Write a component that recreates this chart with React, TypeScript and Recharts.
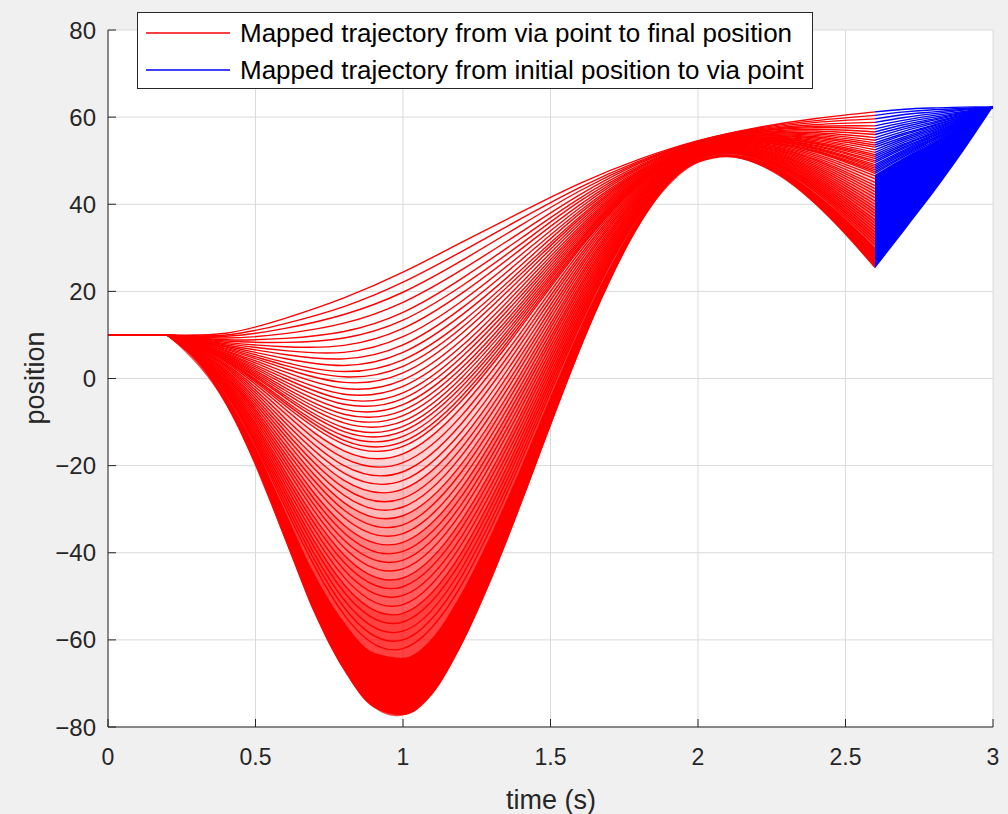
import React from "react";
import { ComposedChart, Line, Area, XAxis, YAxis, CartesianGrid } from "recharts";

const W = 1008;
const H = 814;
const FONT = "'Liberation Sans', Arial, Helvetica, sans-serif";
const INK = "#262626";

// fine time grid for the envelope of the red family (s)
const timeFine = [0, 0.1, 0.2, 0.3, 0.4, 0.5, 0.6, 0.7, 0.8, 0.9, 1.0, 1.1, 1.2, 1.3, 1.4, 1.5, 1.6, 1.7, 1.8, 1.9, 2.0, 2.1, 2.2, 2.3, 2.4, 2.5, 2.6];
// lowest red trajectory
const redLower = [10, 10, 10, 4, -6, -20, -37, -54, -67, -75.5, -77.3, -72.5, -61, -46, -29, -11, 6.5, 22, 35, 44.5, 49.5, 50.8, 49.2, 45.5, 39.8, 33, 25.3];
// top of the part where the red lines merge into a solid band
const redSolidTop = [10, 10, 10, 4.8, -3.9, -15.9, -30.4, -44.9, -55.9, -62.9, -64.1, -59.5, -49.0, -35.5, -20.3, -4.2, 11.5, 25.3, 37.0, 45.6, 50.2, 51.5, 50.3, 47.2, 42.4, 36.6, 30.0];

// coarse grid for the individual red lines
const timeCoarse = [0, 0.2, 0.4, 0.6, 0.8, 1.0, 1.2, 1.4, 1.6, 1.8, 2.0, 2.2, 2.4, 2.6];

const redCurves = [
  [10, 10, 10.4, 13.8, 18.5, 24.4, 31.3, 38.2, 44.8, 50.3, 54.6, 57.6, 59.7, 61.2],
  [10, 10, 10.0, 12.6, 16.5, 22.1, 29.2, 36.7, 43.9, 49.9, 54.5, 57.4, 59.2, 60.4],
  [10, 10, 9.7, 11.5, 14.7, 19.8, 27.1, 35.2, 43.1, 49.6, 54.4, 57.2, 58.8, 59.6],
  [10, 10, 9.3, 10.3, 12.7, 17.5, 25.0, 33.6, 42.2, 49.3, 54.3, 57.0, 58.3, 58.8],
  [10, 10, 8.9, 9.2, 10.8, 15.2, 23.0, 32.2, 41.4, 48.9, 54.1, 56.8, 57.9, 58.0],
  [10, 10, 8.6, 8.3, 9.3, 13.4, 21.3, 30.9, 40.7, 48.6, 54.0, 56.7, 57.6, 57.3],
  [10, 10, 8.3, 7.3, 7.6, 11.5, 19.6, 29.7, 39.9, 48.4, 54.0, 56.5, 57.2, 56.6],
  [10, 10, 8.0, 6.4, 6.0, 9.6, 17.8, 28.4, 39.2, 48.1, 53.9, 56.4, 56.8, 56.0],
  [10, 10, 7.7, 5.5, 4.5, 7.7, 16.2, 27.2, 38.5, 47.8, 53.8, 56.2, 56.4, 55.3],
  [10, 10, 7.4, 4.6, 3.0, 6.0, 14.6, 26.0, 37.9, 47.5, 53.7, 56.1, 56.1, 54.7],
  [10, 10, 7.2, 3.7, 1.6, 4.3, 13.0, 24.9, 37.2, 47.3, 53.6, 55.9, 55.8, 54.1],
  [10, 10, 6.9, 3.0, 0.4, 2.8, 11.7, 24.0, 36.7, 47.1, 53.5, 55.8, 55.5, 53.6],
  [10, 10, 6.7, 2.3, -0.9, 1.3, 10.4, 23.0, 36.1, 46.8, 53.4, 55.7, 55.2, 53.1],
  [10, 10, 6.4, 1.5, -2.3, -0.3, 8.9, 21.9, 35.5, 46.6, 53.4, 55.6, 54.9, 52.5],
  [10, 10, 6.2, 0.7, -3.6, -1.8, 7.5, 20.9, 34.9, 46.4, 53.3, 55.4, 54.6, 51.9],
  [10, 10, 5.9, 0.0, -4.8, -3.3, 6.2, 19.9, 34.4, 46.1, 53.2, 55.3, 54.3, 51.4],
  [10, 10, 5.7, -0.7, -5.9, -4.6, 5.0, 19.0, 33.9, 45.9, 53.2, 55.2, 54.0, 51.0],
  [10, 10, 5.5, -1.4, -7.1, -6.0, 3.7, 18.1, 33.4, 45.7, 53.1, 55.1, 53.8, 50.5],
  [10, 10, 5.3, -2.1, -8.2, -7.3, 2.5, 17.2, 32.9, 45.5, 53.0, 55.0, 53.5, 50.0],
  [10, 10, 5.1, -2.7, -9.2, -8.5, 1.4, 16.4, 32.4, 45.3, 53.0, 54.9, 53.3, 49.6],
  [10, 10, 4.9, -3.3, -10.2, -9.8, 0.3, 15.6, 31.9, 45.2, 52.9, 54.8, 53.0, 49.1],
  [10, 10, 4.7, -3.9, -11.3, -11.0, -0.8, 14.8, 31.5, 45.0, 52.8, 54.7, 52.8, 48.7],
  [10, 10, 4.5, -4.4, -12.2, -12.1, -1.8, 14.1, 31.1, 44.8, 52.8, 54.6, 52.6, 48.3],
  [10, 10, 4.3, -5.1, -13.2, -13.3, -2.9, 13.3, 30.6, 44.6, 52.7, 54.5, 52.3, 47.9],
  [10, 10, 4.1, -5.6, -14.2, -14.5, -4.0, 12.5, 30.2, 44.5, 52.7, 54.4, 52.1, 47.5],
  [10, 10, 4.0, -6.2, -15.1, -15.6, -5.0, 11.8, 29.8, 44.3, 52.6, 54.3, 51.9, 47.1],
  [10, 10, 3.7, -7.0, -16.6, -17.3, -6.5, 10.6, 29.1, 44.0, 52.5, 54.2, 51.5, 46.5],
  [10, 10, 3.3, -8.0, -18.3, -19.3, -8.4, 9.3, 28.3, 43.7, 52.4, 54.0, 51.1, 45.8],
  [10, 10, 3.0, -9.1, -20.0, -21.4, -10.2, 8.0, 27.6, 43.4, 52.3, 53.8, 50.7, 45.0],
  [10, 10, 2.7, -10.1, -21.7, -23.4, -12.1, 6.6, 26.8, 43.1, 52.2, 53.7, 50.3, 44.3],
  [10, 10, 2.4, -11.1, -23.4, -25.4, -13.9, 5.3, 26.0, 42.8, 52.1, 53.5, 50.0, 43.6],
  [10, 10, 2.0, -12.1, -25.1, -27.5, -15.8, 3.9, 25.3, 42.5, 52.0, 53.3, 49.6, 42.9],
  [10, 10, 1.7, -13.1, -26.8, -29.5, -17.6, 2.6, 24.5, 42.2, 51.9, 53.2, 49.2, 42.2],
  [10, 10, 1.4, -14.1, -28.5, -31.5, -19.5, 1.2, 23.7, 41.9, 51.8, 53.0, 48.8, 41.5],
  [10, 10, 1.1, -15.2, -30.2, -33.6, -21.3, -0.1, 23.0, 41.6, 51.7, 52.8, 48.4, 40.7],
  [10, 10, 0.7, -16.2, -31.9, -35.6, -23.2, -1.5, 22.2, 41.3, 51.6, 52.6, 48.0, 40.0],
  [10, 10, 0.4, -17.2, -33.7, -37.6, -25.0, -2.8, 21.4, 41.0, 51.5, 52.5, 47.6, 39.3],
  [10, 10, 0.1, -18.2, -35.4, -39.7, -26.9, -4.1, 20.7, 40.7, 51.4, 52.3, 47.2, 38.6],
  [10, 10, -0.3, -19.2, -37.1, -41.7, -28.7, -5.5, 19.9, 40.4, 51.3, 52.1, 46.8, 37.9],
  [10, 10, -0.6, -20.2, -38.8, -43.7, -30.5, -6.8, 19.1, 40.1, 51.2, 52.0, 46.4, 37.2],
  [10, 10, -0.9, -21.3, -40.5, -45.8, -32.4, -8.2, 18.4, 39.7, 51.1, 51.8, 46.0, 36.4],
  [10, 10, -1.2, -22.3, -42.2, -47.8, -34.2, -9.5, 17.6, 39.4, 51.0, 51.6, 45.6, 35.7],
  [10, 10, -1.6, -23.3, -43.9, -49.8, -36.1, -10.9, 16.8, 39.1, 50.9, 51.5, 45.2, 35.0],
  [10, 10, -1.9, -24.3, -45.6, -51.9, -37.9, -12.2, 16.1, 38.8, 50.8, 51.3, 44.8, 34.3],
  [10, 10, -2.2, -25.3, -47.3, -53.9, -39.8, -13.5, 15.3, 38.5, 50.7, 51.1, 44.4, 33.6],
  [10, 10, -2.6, -26.3, -49.0, -55.9, -41.6, -14.9, 14.5, 38.2, 50.6, 51.0, 44.0, 32.8],
  [10, 10, -2.9, -27.4, -50.8, -58.0, -43.5, -16.2, 13.8, 37.9, 50.5, 50.8, 43.6, 32.1],
  [10, 10, -3.2, -28.4, -52.5, -60.0, -45.3, -17.6, 13.0, 37.6, 50.4, 50.6, 43.2, 31.4],
  [10, 10, -3.5, -29.4, -54.2, -62.0, -47.2, -18.9, 12.3, 37.3, 50.3, 50.5, 42.8, 30.7],
];

// blue family, from t = 2.6 to 3
const timeBlue = [2.6, 2.7, 2.8, 2.9, 3.0];
const blueLower = [25.3, 34.0, 42.8, 52.2, 62.3];
const blueSolidTop = [46.8, 50.8, 54.3, 58.2, 62.3];
const blueCurves = [
  [61.2, 61.8, 62.1, 62.3, 62.3],
  [60.4, 61.2, 61.7, 62.0, 62.3],
  [59.6, 60.6, 61.2, 61.8, 62.3],
  [58.8, 59.9, 60.8, 61.6, 62.3],
  [58.0, 59.3, 60.4, 61.3, 62.3],
  [57.3, 58.8, 60.0, 61.1, 62.3],
  [56.6, 58.3, 59.6, 61.0, 62.3],
  [56.0, 57.8, 59.3, 60.8, 62.3],
  [55.3, 57.3, 58.9, 60.6, 62.3],
  [54.7, 56.8, 58.6, 60.4, 62.3],
  [54.1, 56.3, 58.2, 60.2, 62.3],
  [53.6, 56.0, 58.0, 60.1, 62.3],
  [53.1, 55.5, 57.7, 59.9, 62.3],
  [52.5, 55.1, 57.4, 59.8, 62.3],
  [51.9, 54.7, 57.1, 59.6, 62.3],
  [51.4, 54.3, 56.8, 59.5, 62.3],
  [51.0, 53.9, 56.5, 59.3, 62.3],
  [50.5, 53.6, 56.3, 59.2, 62.3],
  [50.0, 53.2, 56.0, 59.1, 62.3],
  [49.6, 52.9, 55.8, 58.9, 62.3],
  [49.1, 52.5, 55.6, 58.8, 62.3],
  [48.7, 52.2, 55.3, 58.7, 62.3],
  [48.3, 51.9, 55.1, 58.6, 62.3],
  [47.9, 51.6, 54.9, 58.4, 62.3],
  [47.5, 51.3, 54.7, 58.3, 62.3],
  [47.1, 51.0, 54.4, 58.2, 62.3],
];

const xTicks = [0, 0.5, 1, 1.5, 2, 2.5, 3];
const yTicks = [-80, -60, -40, -20, 0, 20, 40, 60, 80];

// pink shading where the red lines are packed tightly: [curve index used as upper edge, opacity]
const tintLayers: [number, number][] = [
  [22, 0.08],
  [26, 0.1],
  [30, 0.12],
  [33, 0.15],
  [36, 0.2],
  [40, 0.25],
  [44, 0.3],
];

const minus = (v: number) => (v < 0 ? "\u2212" + Math.abs(v) : String(v));

export default function App() {
  const solidRed = timeFine.map((t, i) => ({ t, band: [redLower[i], redSolidTop[i]] }));
  const solidBlue = timeBlue.map((t, i) => ({ t, band: [blueLower[i], blueSolidTop[i]] }));
  // the lines share the flat start at 10 up to t = 0.2; each curve is drawn from there on
  const flatStart = timeCoarse.slice(0, 2).map((t, i) => ({ t, v: redCurves[0][i] }));
  const tints = tintLayers.map(([k, op]) => ({
    op,
    data: timeCoarse.slice(1).map((t, i) => ({ t, band: [redLower[(i + 1) * 2], redCurves[k][i + 1]] })),
  }));

  const tickStyleX = { fill: INK, fontSize: 23, fontFamily: FONT };
  const tickStyleY = { fill: INK, fontSize: 24, fontFamily: FONT };

  return (
    <div
      style={{
        position: "absolute",
        left: 0,
        top: 0,
        width: W,
        height: H,
        background: "#f0f0f0",
        fontFamily: FONT,
        overflow: "hidden",
      }}
    >
      <ComposedChart width={W} height={H} margin={{ top: 30, right: 15, bottom: 0, left: 0 }}>
        <CartesianGrid stroke="#dadada" fill="#ffffff" fillOpacity={1} />

        <XAxis
          dataKey="t"
          type="number"
          domain={[0, 3]}
          ticks={xTicks}
          allowDataOverflow
          height={87}
          tickSize={-8}
          tickMargin={30}
          tick={tickStyleX}
          stroke={INK}
        />
        <XAxis
          xAxisId="top"
          orientation="top"
          type="number"
          domain={[0, 3]}
          ticks={xTicks}
          height={0}
          tickSize={-8}
          tick={false}
          stroke={INK}
        />
        <YAxis
          type="number"
          domain={[-80, 80]}
          ticks={yTicks}
          allowDataOverflow
          width={108}
          tickSize={-8}
          tickMargin={20}
          tick={tickStyleY}
          tickFormatter={minus}
          stroke={INK}
        />
        <YAxis
          yAxisId="right"
          orientation="right"
          type="number"
          domain={[-80, 80]}
          ticks={yTicks}
          width={0}
          tickSize={-8}
          tick={false}
          stroke={INK}
        />

        {tints.map((layer, j) => (
          <Area
            key={"tint" + j}
            data={layer.data}
            dataKey="band"
            type="natural"
            stroke="none"
            fill="#ff0000"
            fillOpacity={layer.op}
            isAnimationActive={false}
          />
        ))}
        <Area
          data={solidRed}
          dataKey="band"
          type="monotone"
          stroke="none"
          fill="#ff0000"
          fillOpacity={1}
          isAnimationActive={false}
        />
        <Line
          data={flatStart}
          dataKey="v"
          type="linear"
          stroke="#ff0000"
          strokeWidth={2}
          dot={false}
          activeDot={false}
          isAnimationActive={false}
        />
        {redCurves.map((vals, k) => (
          <Line
            key={"r" + k}
            data={timeCoarse.slice(1).map((t, i) => ({ t, v: vals[i + 1] }))}
            dataKey="v"
            type="natural"
            stroke="#ff0000"
            strokeWidth={1.4}
            dot={false}
            activeDot={false}
            isAnimationActive={false}
          />
        ))}

        <Area
          data={solidBlue}
          dataKey="band"
          type="monotone"
          stroke="none"
          fill="#0000ff"
          fillOpacity={1}
          isAnimationActive={false}
        />
        {blueCurves.map((vals, k) => (
          <Line
            key={"b" + k}
            data={timeBlue.map((t, i) => ({ t, v: vals[i] }))}
            dataKey="v"
            type="natural"
            stroke="#0000ff"
            strokeWidth={1.4}
            dot={false}
            activeDot={false}
            isAnimationActive={false}
          />
        ))}
      </ComposedChart>

      {/* axis titles */}
      <div
        style={{
          position: "absolute",
          left: 35,
          top: 378,
          transform: "translate(-50%, -50%) rotate(-90deg)",
          fontSize: 27,
          color: INK,
          whiteSpace: "nowrap",
        }}
      >
        position
      </div>
      <div
        style={{
          position: "absolute",
          left: 551,
          top: 800,
          transform: "translate(-50%, -50%)",
          fontSize: 27,
          color: INK,
          whiteSpace: "nowrap",
        }}
      >
        time (s)
      </div>

      {/* legend */}
      <div
        style={{
          position: "absolute",
          left: 137,
          top: 12,
          width: 674,
          height: 75,
          background: "#ffffff",
          border: `1px solid ${INK}`,
          fontSize: 26,
          color: "#000",
        }}
      >
        {[
          { color: "#ff0000", text: "Mapped trajectory from via point to final position" },
          { color: "#0000ff", text: "Mapped trajectory from initial position to via point" },
        ].map((row, i) => (
          <div
            key={i}
            style={{ position: "absolute", left: 0, top: 4 + i * 37, height: 32, display: "flex", alignItems: "center" }}
          >
            <svg width={100} height={32} style={{ display: "block" }}>
              <line x1={8} x2={92} y1={16} y2={16} stroke={row.color} strokeWidth={1.5} />
            </svg>
            <span style={{ whiteSpace: "nowrap", marginLeft: 2 }}>{row.text}</span>
          </div>
        ))}
      </div>
    </div>
  );
}
